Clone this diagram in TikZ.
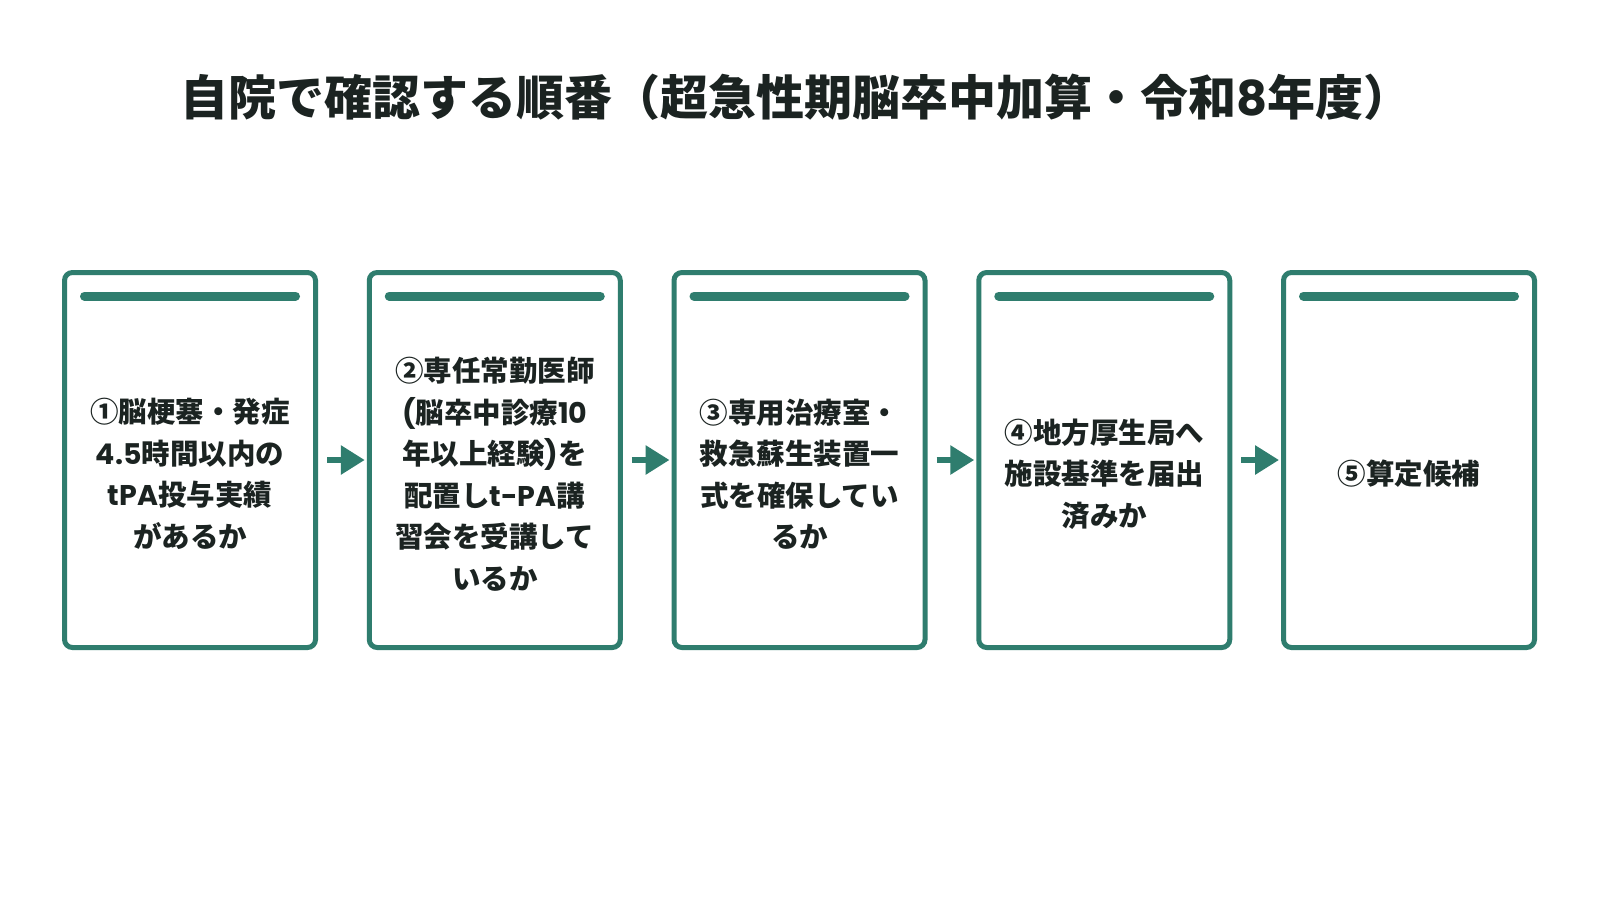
\documentclass[tikz,border=0pt]{standalone}
\usepackage{fontspec}
\newfontfamily\jp{Noto Sans CJK JP Black}
\newfontfamily\latf{Poppins}
\newcommand\lt[1]{{\latf\bfseries #1}}
\usetikzlibrary{arrows.meta,calc}
\definecolor{teal}{HTML}{2F7D6E}
\definecolor{ink}{HTML}{1B2321}
\tikzset{
  card/.style={draw=teal, line width=5pt, rounded corners=8pt, fill=white,
    minimum width=251pt, minimum height=375pt, inner sep=0pt},
  cardtext/.style={text=ink, align=center, inner sep=0pt,
    font=\jp\fontsize{28.5}{41.5}\selectfont},
  topbar/.style={draw=teal, line width=9pt, line cap=round},
  flow/.style={draw=teal, line width=6pt, -{Triangle[length=24pt,width=28pt]},
    shorten <=9pt, shorten >=2pt},
  title/.style={text=ink, font=\jp\fontsize{48}{56}\selectfont, inner sep=0pt}
}
\begin{document}
\begin{tikzpicture}[x=1pt,y=-1pt]
\useasboundingbox[fill=white] (0,0) rectangle (1600,900);
\node[title] (ttl) at (796,97) {自院で確認する順番（超急性期脳卒中加算・令和\lt{8}年度）};
\foreach \i/\t in {1/{①脳梗塞・発症\\\lt{4.5}時間以内の\\\lt{tPA}投与実績\\があるか},
                   2/{②専任常勤医師\\\lt{(}脳卒中診療\lt{10}\\年以上経験\lt{)}を\\配置し\lt{t-PA}講\\習会を受講して\\いるか},
                   3/{③専用治療室・\\救急蘇生装置一\\式を確保してい\\るか},
                   4/{④地方厚生局へ\\施設基準を届出\\済みか},
                   5/{⑤算定候補}} {
  \pgfmathsetmacro{\cx}{190+(\i-1)*304.75}
  \node[card] (b\i) at (\cx,460) {};
  \draw[topbar] ([shift={(22.5,26)}]b\i.north west) -- ([shift={(-22.5,26)}]b\i.north east);
  \node[cardtext] (t\i) at (\cx,474) {\t};
}
\foreach \a/\b in {1/2,2/3,3/4,4/5} {
  \draw[flow] (b\a.east) -- (b\b.west);
}
\end{tikzpicture}
\end{document}
